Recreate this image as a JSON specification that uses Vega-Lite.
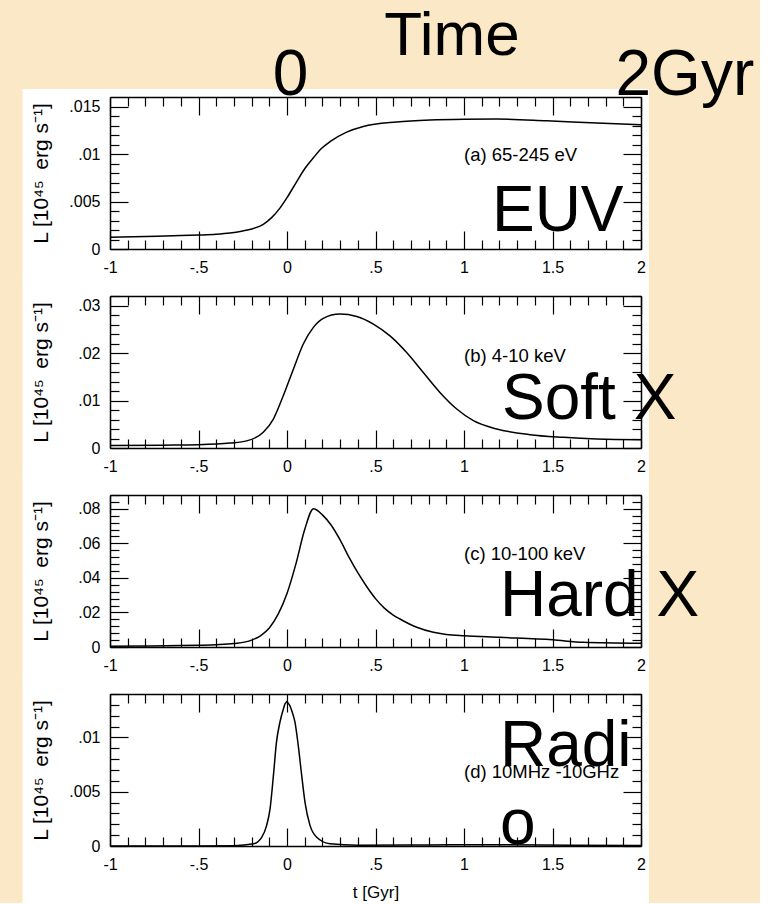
{
  "$schema": "https://vega.github.io/schema/vega-lite/v6.json",
  "background": "#FAE8C6",
  "padding": {"left": 22, "top": 5, "right": 5, "bottom": 0},
  "bounds": "flush",
  "spacing": 47,
  "datasets": {
    "euv": [
      {"t": -1.0, "L": 0.00123}, {"t": -0.8, "L": 0.00132}, {"t": -0.6, "L": 0.00141},
      {"t": -0.5, "L": 0.00147}, {"t": -0.4, "L": 0.00155}, {"t": -0.322, "L": 0.00168},
      {"t": -0.25, "L": 0.0019}, {"t": -0.2, "L": 0.0021}, {"t": -0.134, "L": 0.0026},
      {"t": -0.087, "L": 0.0033}, {"t": -0.04, "L": 0.0043}, {"t": 0.0, "L": 0.0054},
      {"t": 0.055, "L": 0.0071}, {"t": 0.102, "L": 0.0085}, {"t": 0.149, "L": 0.0096},
      {"t": 0.196, "L": 0.0106}, {"t": 0.243, "L": 0.0113}, {"t": 0.337, "L": 0.0123},
      {"t": 0.431, "L": 0.0129}, {"t": 0.62, "L": 0.01337}, {"t": 0.808, "L": 0.01358},
      {"t": 1.0, "L": 0.01366}, {"t": 1.185, "L": 0.01368}, {"t": 1.467, "L": 0.0135},
      {"t": 1.75, "L": 0.01326}, {"t": 2.0, "L": 0.01309}
    ],
    "soft": [
      {"t": -1.0, "L": 0.0005}, {"t": -0.7, "L": 0.0006}, {"t": -0.5, "L": 0.0007},
      {"t": -0.322, "L": 0.00105}, {"t": -0.228, "L": 0.0015}, {"t": -0.134, "L": 0.0033},
      {"t": -0.077, "L": 0.0061}, {"t": -0.021, "L": 0.011}, {"t": 0.036, "L": 0.0166},
      {"t": 0.092, "L": 0.0219}, {"t": 0.149, "L": 0.0254}, {"t": 0.205, "L": 0.0273},
      {"t": 0.299, "L": 0.0282}, {"t": 0.394, "L": 0.0277}, {"t": 0.488, "L": 0.0261},
      {"t": 0.582, "L": 0.0236}, {"t": 0.676, "L": 0.0201}, {"t": 0.77, "L": 0.0159},
      {"t": 0.864, "L": 0.0117}, {"t": 0.959, "L": 0.0082}, {"t": 1.053, "L": 0.00575},
      {"t": 1.185, "L": 0.004}, {"t": 1.373, "L": 0.0028}, {"t": 1.561, "L": 0.00225},
      {"t": 1.75, "L": 0.0019}, {"t": 2.0, "L": 0.00175}
    ],
    "hard": [
      {"t": -1.0, "L": 0.0005}, {"t": -0.8, "L": 0.0006}, {"t": -0.6, "L": 0.0008},
      {"t": -0.5, "L": 0.001}, {"t": -0.4, "L": 0.0013}, {"t": -0.3, "L": 0.002},
      {"t": -0.2, "L": 0.004}, {"t": -0.15, "L": 0.0065}, {"t": -0.1, "L": 0.011},
      {"t": -0.05, "L": 0.019}, {"t": 0.0, "L": 0.031}, {"t": 0.05, "L": 0.048},
      {"t": 0.1, "L": 0.068}, {"t": 0.15, "L": 0.0801}, {"t": 0.2, "L": 0.0765},
      {"t": 0.25, "L": 0.0705}, {"t": 0.3, "L": 0.062}, {"t": 0.35, "L": 0.052},
      {"t": 0.4, "L": 0.043}, {"t": 0.45, "L": 0.035}, {"t": 0.5, "L": 0.028},
      {"t": 0.55, "L": 0.0225}, {"t": 0.6, "L": 0.0185}, {"t": 0.638, "L": 0.0162},
      {"t": 0.733, "L": 0.0114}, {"t": 0.827, "L": 0.0085}, {"t": 0.9, "L": 0.0073},
      {"t": 1.0, "L": 0.0065}, {"t": 1.2, "L": 0.0056}, {"t": 1.5, "L": 0.0042},
      {"t": 1.674, "L": 0.0027}, {"t": 2.0, "L": 0.0021}
    ],
    "radio": [
      {"t": -1.0, "L": 0.0}, {"t": -0.5, "L": 0.0}, {"t": -0.3, "L": 0.00003},
      {"t": -0.19, "L": 0.0002}, {"t": -0.143, "L": 0.0008}, {"t": -0.115, "L": 0.0019},
      {"t": -0.096, "L": 0.0034}, {"t": -0.075, "L": 0.0068}, {"t": -0.06, "L": 0.0095},
      {"t": -0.04, "L": 0.0114}, {"t": -0.021, "L": 0.0126}, {"t": -0.011, "L": 0.0131},
      {"t": -0.004, "L": 0.01325}, {"t": 0.0, "L": 0.0133}, {"t": 0.005, "L": 0.0132},
      {"t": 0.017, "L": 0.0129}, {"t": 0.027, "L": 0.01246},
      {"t": 0.045, "L": 0.0114}, {"t": 0.064, "L": 0.0092}, {"t": 0.083, "L": 0.0065},
      {"t": 0.102, "L": 0.004}, {"t": 0.13, "L": 0.0019}, {"t": 0.168, "L": 0.0008},
      {"t": 0.243, "L": 0.0002}, {"t": 0.4, "L": 0.00008}, {"t": 0.8, "L": 0.0001},
      {"t": 1.2, "L": 0.00012}, {"t": 1.6, "L": 0.00008}, {"t": 2.0, "L": 0.00005}
    ],
    "info_a": [{"range": "(a) 65-245 eV", "band": "EUV", "heading": "Time", "start": "0", "end": "2Gyr"}],
    "info_b": [{"range": "(b) 4-10 keV", "band": "Soft X"}],
    "info_c": [{"range": "(c) 10-100 keV", "band": "Hard X"}],
    "info_d": [{"range": "(d) 10MHz -10GHz", "band": "Radi\no"}]
  },
  "vconcat": [
    {
      "width": 531, "height": 152,
      "data": {"name": "info_a"},
      "layer": [
        {
          "mark": {"type": "rect", "color": "white"},
          "encoding": {
            "x": {"datum": -1.494, "type": "quantitative", "scale": {"domain": [-1, 2], "nice": false, "zero": false}, "axis": null},
            "x2": {"datum": 2.045},
            "y": {"datum": 0.016842, "type": "quantitative", "scale": {"domain": [0, 0.016], "nice": false, "zero": false}, "axis": null},
            "y2": {"datum": -0.002947}
          }
        },
        {
          "data": {"name": "euv"},
          "mark": {"type": "line", "color": "black", "strokeWidth": 1.5, "interpolate": "monotone"},
          "encoding": {
            "x": {"field": "t", "type": "quantitative", "scale": {"domain": [-1, 2], "nice": false, "zero": false},
              "axis": {"orient": "bottom", "title": null, "zindex": 1,
                "values": [-1,-0.9,-0.8,-0.7,-0.6,-0.5,-0.4,-0.3,-0.2,-0.1,0,0.1,0.2,0.3,0.4,0.5,0.6,0.7,0.8,0.9,1,1.1,1.2,1.3,1.4,1.5,1.6,1.7,1.8,1.9,2],
                "tickSize": {"condition": {"test": "abs(datum.value*2-round(datum.value*2))<0.001", "value": -18}, "value": -9},
                "labelPadding": {"condition": {"test": "abs(datum.value*2-round(datum.value*2))<0.001", "value": 28}, "value": 19},
                "labelExpr": "abs(datum.value*2-round(datum.value*2))<0.001 ? replace(replace(datum.label,'−','-'),'0.','.') : ''"}},
            "y": {"field": "L", "type": "quantitative", "scale": {"domain": [0, 0.016], "nice": false, "zero": false},
              "axis": {"orient": "left", "title": "L [10⁴⁵\u2002erg s⁻¹]", "titleX": -59, "zindex": 1,
                "values": [0,0.001,0.002,0.003,0.004,0.005,0.006,0.007,0.008,0.009,0.01,0.011,0.012,0.013,0.014,0.015],
                "tickSize": {"condition": {"test": "abs(datum.value*200-round(datum.value*200))<0.001", "value": -18}, "value": -9},
                "labelPadding": {"condition": {"test": "abs(datum.value*200-round(datum.value*200))<0.001", "value": 28}, "value": 19},
                "labelExpr": "abs(datum.value*200-round(datum.value*200))<0.001 ? replace(datum.label,'0.','.') : ''"}}
          }
        },
        {
          "mark": {"type": "text", "align": "left", "baseline": "middle", "fontSize": 18.5},
          "encoding": {
            "text": {"field": "range"},
            "x": {"datum": 1.0, "type": "quantitative", "scale": {"domain": [-1, 2], "nice": false, "zero": false},
              "axis": {"orient": "top", "title": null, "labels": false, "zindex": 1,
                "values": [-1,-0.9,-0.8,-0.7,-0.6,-0.5,-0.4,-0.3,-0.2,-0.1,0,0.1,0.2,0.3,0.4,0.5,0.6,0.7,0.8,0.9,1,1.1,1.2,1.3,1.4,1.5,1.6,1.7,1.8,1.9,2],
                "tickSize": {"condition": {"test": "abs(datum.value*2-round(datum.value*2))<0.001", "value": -18}, "value": -9}}},
            "y": {"datum": 0.0099, "type": "quantitative", "scale": {"domain": [0, 0.016], "nice": false, "zero": false},
              "axis": {"orient": "right", "title": null, "labels": false, "zindex": 1,
                "values": [0,0.001,0.002,0.003,0.004,0.005,0.006,0.007,0.008,0.009,0.01,0.011,0.012,0.013,0.014,0.015],
                "tickSize": {"condition": {"test": "abs(datum.value*200-round(datum.value*200))<0.001", "value": -18}, "value": -9}}}
          }
        },
        {
          "mark": {"type": "text", "align": "left", "baseline": "alphabetic", "fontSize": 64},
          "encoding": {
            "text": {"field": "band"},
            "x": {"datum": 1.158, "type": "quantitative", "scale": {"domain": [-1, 2], "nice": false, "zero": false}, "axis": null},
            "y": {"datum": 0.00189, "type": "quantitative", "scale": {"domain": [0, 0.016], "nice": false, "zero": false}, "axis": null}
          }
        },
        {
          "mark": {"type": "text", "align": "center", "baseline": "alphabetic", "fontSize": 62},
          "encoding": {
            "text": {"field": "heading"},
            "x": {"datum": 0.932, "type": "quantitative", "scale": {"domain": [-1, 2], "nice": false, "zero": false}, "axis": null},
            "y": {"datum": 0.0204, "type": "quantitative", "scale": {"domain": [0, 0.016], "nice": false, "zero": false}, "axis": null}
          }
        },
        {
          "mark": {"type": "text", "align": "center", "baseline": "alphabetic", "fontSize": 64},
          "encoding": {
            "text": {"field": "start"},
            "x": {"datum": 0.02, "type": "quantitative", "scale": {"domain": [-1, 2], "nice": false, "zero": false}, "axis": null},
            "y": {"datum": 0.0162, "type": "quantitative", "scale": {"domain": [0, 0.016], "nice": false, "zero": false}, "axis": null}
          }
        },
        {
          "mark": {"type": "text", "align": "left", "baseline": "alphabetic", "fontSize": 64},
          "encoding": {
            "text": {"field": "end"},
            "x": {"datum": 1.856, "type": "quantitative", "scale": {"domain": [-1, 2], "nice": false, "zero": false}, "axis": null},
            "y": {"datum": 0.0162, "type": "quantitative", "scale": {"domain": [0, 0.016], "nice": false, "zero": false}, "axis": null}
          }
        }
      ],
      "resolve": {"axis": {"x": "independent", "y": "independent"}}
    },
    {
      "width": 531, "height": 152,
      "data": {"name": "info_b"},
      "layer": [
        {
          "mark": {"type": "rect", "color": "white"},
          "encoding": {
            "x": {"datum": -1.494, "type": "quantitative", "scale": {"domain": [-1, 2], "nice": false, "zero": false}, "axis": null},
            "x2": {"datum": 2.045},
            "y": {"datum": 0.036211, "type": "quantitative", "scale": {"domain": [0, 0.032], "nice": false, "zero": false}, "axis": null},
            "y2": {"datum": -0.005895}
          }
        },
        {
          "data": {"name": "soft"},
          "mark": {"type": "line", "color": "black", "strokeWidth": 1.5, "interpolate": "monotone"},
          "encoding": {
            "x": {"field": "t", "type": "quantitative", "scale": {"domain": [-1, 2], "nice": false, "zero": false},
              "axis": {"orient": "bottom", "title": null, "zindex": 1,
                "values": [-1,-0.9,-0.8,-0.7,-0.6,-0.5,-0.4,-0.3,-0.2,-0.1,0,0.1,0.2,0.3,0.4,0.5,0.6,0.7,0.8,0.9,1,1.1,1.2,1.3,1.4,1.5,1.6,1.7,1.8,1.9,2],
                "tickSize": {"condition": {"test": "abs(datum.value*2-round(datum.value*2))<0.001", "value": -18}, "value": -9},
                "labelPadding": {"condition": {"test": "abs(datum.value*2-round(datum.value*2))<0.001", "value": 28}, "value": 19},
                "labelExpr": "abs(datum.value*2-round(datum.value*2))<0.001 ? replace(replace(datum.label,'−','-'),'0.','.') : ''"}},
            "y": {"field": "L", "type": "quantitative", "scale": {"domain": [0, 0.032], "nice": false, "zero": false},
              "axis": {"orient": "left", "title": "L [10⁴⁵\u2002erg s⁻¹]", "titleX": -59, "zindex": 1,
                "values": [0,0.002,0.004,0.006,0.008,0.01,0.012,0.014,0.016,0.018,0.02,0.022,0.024,0.026,0.028,0.03,0.032],
                "tickSize": {"condition": {"test": "abs(datum.value*100-round(datum.value*100))<0.001", "value": -18}, "value": -9},
                "labelPadding": {"condition": {"test": "abs(datum.value*100-round(datum.value*100))<0.001", "value": 28}, "value": 19},
                "labelExpr": "abs(datum.value*100-round(datum.value*100))<0.001 ? replace(datum.label,'0.','.') : ''"}}
          }
        },
        {
          "mark": {"type": "text", "align": "left", "baseline": "middle", "fontSize": 18.5},
          "encoding": {
            "text": {"field": "range"},
            "x": {"datum": 1.0, "type": "quantitative", "scale": {"domain": [-1, 2], "nice": false, "zero": false},
              "axis": {"orient": "top", "title": null, "labels": false, "zindex": 1,
                "values": [-1,-0.9,-0.8,-0.7,-0.6,-0.5,-0.4,-0.3,-0.2,-0.1,0,0.1,0.2,0.3,0.4,0.5,0.6,0.7,0.8,0.9,1,1.1,1.2,1.3,1.4,1.5,1.6,1.7,1.8,1.9,2],
                "tickSize": {"condition": {"test": "abs(datum.value*2-round(datum.value*2))<0.001", "value": -18}, "value": -9}}},
            "y": {"datum": 0.0194, "type": "quantitative", "scale": {"domain": [0, 0.032], "nice": false, "zero": false},
              "axis": {"orient": "right", "title": null, "labels": false, "zindex": 1,
                "values": [0,0.002,0.004,0.006,0.008,0.01,0.012,0.014,0.016,0.018,0.02,0.022,0.024,0.026,0.028,0.03,0.032],
                "tickSize": {"condition": {"test": "abs(datum.value*100-round(datum.value*100))<0.001", "value": -18}, "value": -9}}}
          }
        },
        {
          "mark": {"type": "text", "align": "left", "baseline": "alphabetic", "fontSize": 64},
          "encoding": {
            "text": {"field": "band"},
            "x": {"datum": 1.215, "type": "quantitative", "scale": {"domain": [-1, 2], "nice": false, "zero": false}, "axis": null},
            "y": {"datum": 0.0061, "type": "quantitative", "scale": {"domain": [0, 0.032], "nice": false, "zero": false}, "axis": null}
          }
        }
      ],
      "resolve": {"axis": {"x": "independent", "y": "independent"}}
    },
    {
      "width": 531, "height": 152,
      "data": {"name": "info_c"},
      "layer": [
        {
          "mark": {"type": "rect", "color": "white"},
          "encoding": {
            "x": {"datum": -1.494, "type": "quantitative", "scale": {"domain": [-1, 2], "nice": false, "zero": false}, "axis": null},
            "x2": {"datum": 2.045},
            "y": {"datum": 0.099579, "type": "quantitative", "scale": {"domain": [0, 0.088], "nice": false, "zero": false}, "axis": null},
            "y2": {"datum": -0.01621}
          }
        },
        {
          "data": {"name": "hard"},
          "mark": {"type": "line", "color": "black", "strokeWidth": 1.5, "interpolate": "monotone"},
          "encoding": {
            "x": {"field": "t", "type": "quantitative", "scale": {"domain": [-1, 2], "nice": false, "zero": false},
              "axis": {"orient": "bottom", "title": null, "zindex": 1,
                "values": [-1,-0.9,-0.8,-0.7,-0.6,-0.5,-0.4,-0.3,-0.2,-0.1,0,0.1,0.2,0.3,0.4,0.5,0.6,0.7,0.8,0.9,1,1.1,1.2,1.3,1.4,1.5,1.6,1.7,1.8,1.9,2],
                "tickSize": {"condition": {"test": "abs(datum.value*2-round(datum.value*2))<0.001", "value": -18}, "value": -9},
                "labelPadding": {"condition": {"test": "abs(datum.value*2-round(datum.value*2))<0.001", "value": 28}, "value": 19},
                "labelExpr": "abs(datum.value*2-round(datum.value*2))<0.001 ? replace(replace(datum.label,'−','-'),'0.','.') : ''"}},
            "y": {"field": "L", "type": "quantitative", "scale": {"domain": [0, 0.088], "nice": false, "zero": false},
              "axis": {"orient": "left", "title": "L [10⁴⁵\u2002erg s⁻¹]", "titleX": -59, "zindex": 1,
                "values": [0,0.004,0.008,0.012,0.016,0.02,0.024,0.028,0.032,0.036,0.04,0.044,0.048,0.052,0.056,0.06,0.064,0.068,0.072,0.076,0.08,0.084,0.088],
                "tickSize": {"condition": {"test": "abs(datum.value*50-round(datum.value*50))<0.001", "value": -18}, "value": -9},
                "labelPadding": {"condition": {"test": "abs(datum.value*50-round(datum.value*50))<0.001", "value": 28}, "value": 19},
                "labelExpr": "abs(datum.value*50-round(datum.value*50))<0.001 ? replace(datum.label,'0.','.') : ''"}}
          }
        },
        {
          "mark": {"type": "text", "align": "left", "baseline": "middle", "fontSize": 18.5},
          "encoding": {
            "text": {"field": "range"},
            "x": {"datum": 1.0, "type": "quantitative", "scale": {"domain": [-1, 2], "nice": false, "zero": false},
              "axis": {"orient": "top", "title": null, "labels": false, "zindex": 1,
                "values": [-1,-0.9,-0.8,-0.7,-0.6,-0.5,-0.4,-0.3,-0.2,-0.1,0,0.1,0.2,0.3,0.4,0.5,0.6,0.7,0.8,0.9,1,1.1,1.2,1.3,1.4,1.5,1.6,1.7,1.8,1.9,2],
                "tickSize": {"condition": {"test": "abs(datum.value*2-round(datum.value*2))<0.001", "value": -18}, "value": -9}}},
            "y": {"datum": 0.0539, "type": "quantitative", "scale": {"domain": [0, 0.088], "nice": false, "zero": false},
              "axis": {"orient": "right", "title": null, "labels": false, "zindex": 1,
                "values": [0,0.004,0.008,0.012,0.016,0.02,0.024,0.028,0.032,0.036,0.04,0.044,0.048,0.052,0.056,0.06,0.064,0.068,0.072,0.076,0.08,0.084,0.088],
                "tickSize": {"condition": {"test": "abs(datum.value*50-round(datum.value*50))<0.001", "value": -18}, "value": -9}}}
          }
        },
        {
          "mark": {"type": "text", "align": "left", "baseline": "alphabetic", "fontSize": 64},
          "encoding": {
            "text": {"field": "band"},
            "x": {"datum": 1.203, "type": "quantitative", "scale": {"domain": [-1, 2], "nice": false, "zero": false}, "axis": null},
            "y": {"datum": 0.018, "type": "quantitative", "scale": {"domain": [0, 0.088], "nice": false, "zero": false}, "axis": null}
          }
        }
      ],
      "resolve": {"axis": {"x": "independent", "y": "independent"}}
    },
    {
      "width": 531, "height": 152,
      "data": {"name": "info_d"},
      "layer": [
        {
          "mark": {"type": "rect", "color": "white"},
          "encoding": {
            "x": {"datum": -1.494, "type": "quantitative", "scale": {"domain": [-1, 2], "nice": false, "zero": false}, "axis": null},
            "x2": {"datum": 2.045},
            "y": {"datum": 0.015842, "type": "quantitative", "scale": {"domain": [0, 0.014], "nice": false, "zero": false}, "axis": null},
            "y2": {"datum": -0.00525}
          }
        },
        {
          "data": {"name": "radio"},
          "mark": {"type": "line", "color": "black", "strokeWidth": 1.5, "interpolate": "monotone"},
          "encoding": {
            "x": {"field": "t", "type": "quantitative", "scale": {"domain": [-1, 2], "nice": false, "zero": false},
              "axis": {"orient": "bottom", "title": "t [Gyr]", "titleY": 38, "titleFontSize": 17, "zindex": 1,
                "values": [-1,-0.9,-0.8,-0.7,-0.6,-0.5,-0.4,-0.3,-0.2,-0.1,0,0.1,0.2,0.3,0.4,0.5,0.6,0.7,0.8,0.9,1,1.1,1.2,1.3,1.4,1.5,1.6,1.7,1.8,1.9,2],
                "tickSize": {"condition": {"test": "abs(datum.value*2-round(datum.value*2))<0.001", "value": -18}, "value": -9},
                "labelPadding": {"condition": {"test": "abs(datum.value*2-round(datum.value*2))<0.001", "value": 28}, "value": 19},
                "labelExpr": "abs(datum.value*2-round(datum.value*2))<0.001 ? replace(replace(datum.label,'−','-'),'0.','.') : ''"}},
            "y": {"field": "L", "type": "quantitative", "scale": {"domain": [0, 0.014], "nice": false, "zero": false},
              "axis": {"orient": "left", "title": "L [10⁴⁵\u2002erg s⁻¹]", "titleX": -59, "zindex": 1,
                "values": [0,0.001,0.002,0.003,0.004,0.005,0.006,0.007,0.008,0.009,0.01,0.011,0.012,0.013,0.014],
                "tickSize": {"condition": {"test": "abs(datum.value*200-round(datum.value*200))<0.001", "value": -18}, "value": -9},
                "labelPadding": {"condition": {"test": "abs(datum.value*200-round(datum.value*200))<0.001", "value": 28}, "value": 19},
                "labelExpr": "abs(datum.value*200-round(datum.value*200))<0.001 ? replace(datum.label,'0.','.') : ''"}}
          }
        },
        {
          "mark": {"type": "text", "align": "left", "baseline": "middle", "fontSize": 18.5},
          "encoding": {
            "text": {"field": "range"},
            "x": {"datum": 1.0, "type": "quantitative", "scale": {"domain": [-1, 2], "nice": false, "zero": false},
              "axis": {"orient": "top", "title": null, "labels": false, "zindex": 1,
                "values": [-1,-0.9,-0.8,-0.7,-0.6,-0.5,-0.4,-0.3,-0.2,-0.1,0,0.1,0.2,0.3,0.4,0.5,0.6,0.7,0.8,0.9,1,1.1,1.2,1.3,1.4,1.5,1.6,1.7,1.8,1.9,2],
                "tickSize": {"condition": {"test": "abs(datum.value*2-round(datum.value*2))<0.001", "value": -18}, "value": -9}}},
            "y": {"datum": 0.00682, "type": "quantitative", "scale": {"domain": [0, 0.014], "nice": false, "zero": false},
              "axis": {"orient": "right", "title": null, "labels": false, "zindex": 1,
                "values": [0,0.001,0.002,0.003,0.004,0.005,0.006,0.007,0.008,0.009,0.01,0.011,0.012,0.013,0.014],
                "tickSize": {"condition": {"test": "abs(datum.value*200-round(datum.value*200))<0.001", "value": -18}, "value": -9}}}
          }
        },
        {
          "mark": {"type": "text", "align": "left", "baseline": "alphabetic", "fontSize": 64, "lineBreak": "\n", "lineHeight": 78},
          "encoding": {
            "text": {"field": "band"},
            "x": {"datum": 1.203, "type": "quantitative", "scale": {"domain": [-1, 2], "nice": false, "zero": false}, "axis": null},
            "y": {"datum": 0.00737, "type": "quantitative", "scale": {"domain": [0, 0.014], "nice": false, "zero": false}, "axis": null}
          }
        }
      ],
      "resolve": {"axis": {"x": "independent", "y": "independent"}}
    }
  ],
  "config": {
    "view": {"stroke": null},
    "axis": {
      "domain": true, "domainColor": "black", "domainWidth": 1.5,
      "grid": false,
      "tickColor": "black", "tickWidth": 1.2,
      "labelFont": "Liberation Sans", "labelFontSize": 16, "labelColor": "black",
      "labelFlush": false, "labelOverlap": false,
      "format": ".3~f",
      "titleFont": "Liberation Sans", "titleFontSize": 21, "titleFontWeight": "normal", "titleColor": "black"
    },
    "text": {"font": "Liberation Sans", "color": "black"}
  }
}
